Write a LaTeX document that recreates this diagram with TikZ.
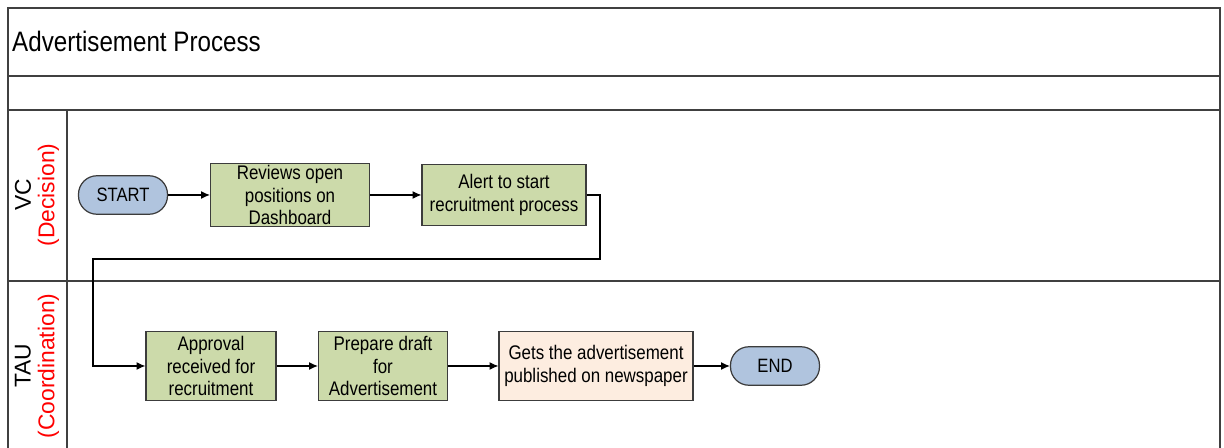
\documentclass[tikz,border=0pt]{standalone}
\usepackage{fontspec}
\setmainfont{Liberation Sans}[FakeStretch=0.86]
\newfontfamily\lanefont{Liberation Sans}
\usetikzlibrary{arrows.meta, positioning}
\definecolor{verdino}{RGB}{204,218,170}
\definecolor{azzurrino}{RGB}{176,196,222}
\definecolor{pesca}{RGB}{253,237,224}
\definecolor{bordo}{RGB}{60,60,60}
\tikzset{
  task/.style = {draw=bordo, line width=0.7pt, fill=verdino, align=center,
                 font=\fontsize{11.2}{12.8}\selectfont, inner sep=1pt},
  terminal/.style = {draw=bordo, line width=0.7pt, fill=azzurrino, rounded corners=10.5pt,
                 minimum width=1.78cm, minimum height=0.77cm, font=\fontsize{11}{12}\selectfont},
  flow/.style = {-{Latex[length=5pt,width=4.5pt]}, line width=0.6pt},
  lane/.style = {line width=0.6pt, draw=black!75},
  lanelabel/.style = {rotate=90, align=center, font=\lanefont\fontsize{13}{13.5}\selectfont}
}
\begin{document}
\begin{tikzpicture}[x=0.02cm, y=-0.02cm]
    % Cornice
    \useasboundingbox (0,0) rectangle (1224,448);
    \draw[lane] (8,448) -- (8,8) -- (1220,8) -- (1220,448);
    \draw[lane] (8,76) -- (1220,76);
    \draw[lane] (8,110) -- (1220,110);
    \draw[lane] (8,281) -- (1220,281);
    \draw[lane] (67,110) -- (67,448);
    \node[anchor=west, font=\fontsize{16}{18}\selectfont] (titolo) at (6,41) {Advertisement Process};
    % Corsie
    \node[lanelabel] (vc) at (37,195) {VC\\\textcolor{red}{(Decision)}};
    \node[lanelabel] (tau) at (37,366) {TAU\\\textcolor{red}{(Coordination)}};
    % Nodi VC
    \node[terminal] (start) at (123,195) {START};
    \node[task, minimum width=3.18cm, minimum height=1.22cm] (reviews) at (290,195) {Reviews open\\positions on\\Dashboard};
    \node[task, minimum width=3.28cm, minimum height=1.22cm] (alert) at (504,195) {Alert to start\\recruitment process};
    % Nodi TAU
    \node[task, minimum width=2.6cm, minimum height=1.38cm] (approval) at (211,366) {Approval\\received for\\recruitment};
    \node[task, minimum width=2.58cm, minimum height=1.38cm] (draft) at (383,366) {Prepare draft\\for\\Advertisement};
    \node[task, fill=pesca, minimum width=3.88cm, minimum height=1.38cm] (publish) at (596,366) {Gets the advertisement\\published on newspaper};
    \node[terminal] (end) at (775,366) {END};
    % Frecce
    \coordinate (giuA) at (600,259);
    \coordinate (giuB) at (93,259);
    \draw[flow] (start) -- (reviews);
    \draw[flow] (reviews) -- (alert);
    \draw[flow] (alert.east) -| (giuA) -- (giuB) |- (approval.west);
    \draw[flow] (approval) -- (draft);
    \draw[flow] (draft) -- (publish);
    \draw[flow] (publish) -- (end);
\end{tikzpicture}
\end{document}
